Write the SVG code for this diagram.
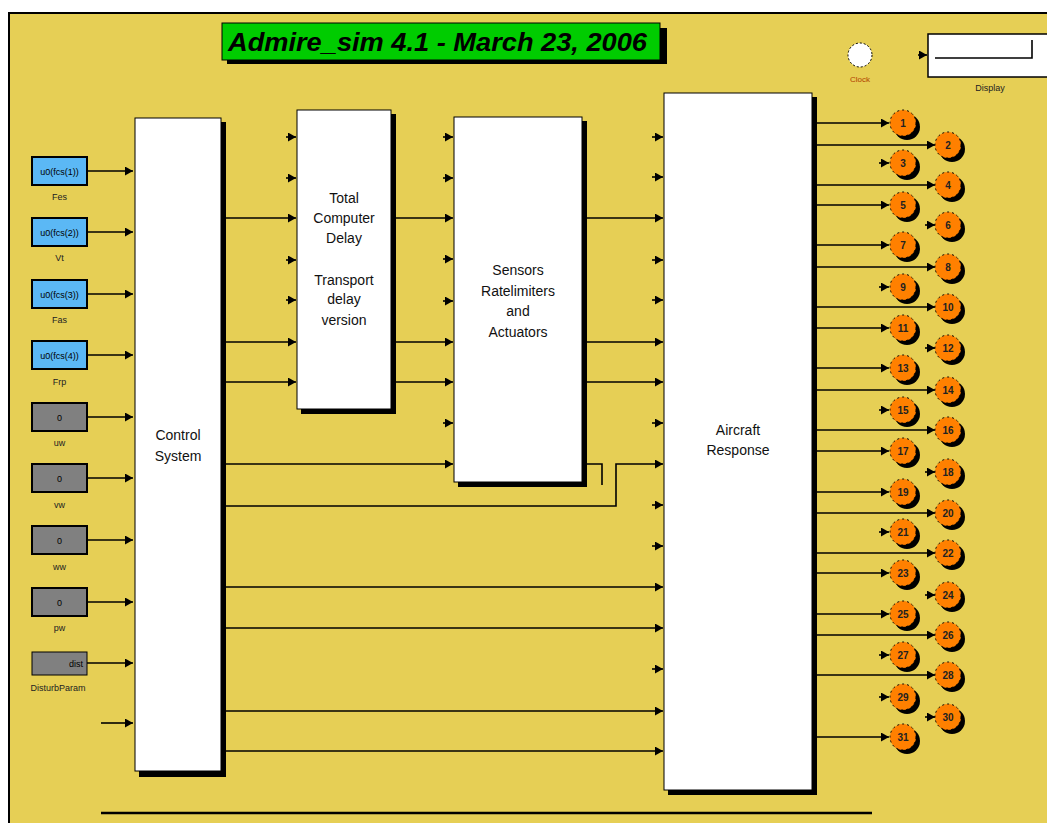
<svg xmlns="http://www.w3.org/2000/svg" width="1047" height="823" viewBox="0 0 1047 823">
<style>
.bg{fill:#E6CF55;stroke:#000;stroke-width:2}
.blk{fill:#fff;stroke:#000;stroke-width:1}
.sh{fill:#000}
.ln{fill:none;stroke:#000;stroke-width:1.6}
.bt{font-family:"Liberation Sans",Arial,sans-serif;font-size:14px;fill:#111;text-anchor:middle}
.lb{font-family:"Liberation Sans",Arial,sans-serif;font-size:9px;fill:#222;text-anchor:middle}
.cb{fill:#5BB8F5;stroke:#000;stroke-width:2}
.gb{fill:#808080;stroke:#000;stroke-width:2}
.ct{font-family:"Liberation Sans",Arial,sans-serif;font-size:9px;fill:#000;text-anchor:middle}
.op{fill:#FF8000;stroke:#000;stroke-width:1;stroke-dasharray:2 3}
.on{font-family:"Liberation Sans",Arial,sans-serif;font-size:10px;font-weight:bold;fill:#222;text-anchor:middle}
</style>
<defs>
<marker id="ah" markerWidth="9" markerHeight="9" refX="8" refY="4.5" orient="auto" markerUnits="userSpaceOnUse"><path d="M0,0 L8,4.5 L0,9 z" fill="#000"/></marker>
</defs>
<rect x="0" y="0" width="1047" height="823" fill="#fff"/>
<rect class="bg" x="9" y="13" width="1100" height="900"/>

<g id="title">
<rect class="sh" x="227" y="28" width="440" height="36"/>
<rect x="222" y="23" width="438" height="37" fill="#00CC00" stroke="#000" stroke-width="1"/>
<text x="228" y="51" font-family="Liberation Sans,Arial,sans-serif" font-size="25" font-weight="bold" font-style="italic" fill="#000" textLength="419" lengthAdjust="spacingAndGlyphs">Admire_sim 4.1 - March 23, 2006</text>
</g>

<g id="clock">
<circle cx="860" cy="55" r="12" fill="#fff" stroke="#000" stroke-width="1" stroke-dasharray="2 2"/>
<text x="860" y="82" font-family="Liberation Sans,Arial,sans-serif" font-size="8" fill="#B04000" text-anchor="middle">Clock</text>
</g>

<g id="display">
<rect x="928" y="34" width="130" height="43" fill="#fff" stroke="#000" stroke-width="1.5"/>
<polyline class="ln" points="935,58 1032,58 1032,40"/>
<text x="990" y="91" font-family="Liberation Sans,Arial,sans-serif" font-size="9" fill="#222" text-anchor="middle">Display</text>
</g>

<g id="in1"><rect class="cb" x="32" y="157" width="55" height="28"/><text class="ct" x="59.5" y="175">u0(fcs(1))</text><text class="lb" x="59.5" y="200">Fes</text></g>
<g id="in2"><rect class="cb" x="32" y="218" width="55" height="28"/><text class="ct" x="59.5" y="236">u0(fcs(2))</text><text class="lb" x="59.5" y="261">Vt</text></g>
<g id="in3"><rect class="cb" x="32" y="280" width="55" height="28"/><text class="ct" x="59.5" y="298">u0(fcs(3))</text><text class="lb" x="59.5" y="323">Fas</text></g>
<g id="in4"><rect class="cb" x="32" y="341" width="55" height="28"/><text class="ct" x="59.5" y="359">u0(fcs(4))</text><text class="lb" x="59.5" y="385">Frp</text></g>
<g id="in5"><rect class="gb" x="32" y="403" width="55" height="28"/><text class="ct" x="59.5" y="421">0</text><text class="lb" x="59.5" y="446">uw</text></g>
<g id="in6"><rect class="gb" x="32" y="464" width="55" height="28"/><text class="ct" x="59.5" y="482">0</text><text class="lb" x="59.5" y="508">vw</text></g>
<g id="in7"><rect class="gb" x="32" y="526" width="55" height="28"/><text class="ct" x="59.5" y="544">0</text><text class="lb" x="59.5" y="570">ww</text></g>
<g id="in8"><rect class="gb" x="32" y="588" width="55" height="28"/><text class="ct" x="59.5" y="606">0</text><text class="lb" x="59.5" y="631">pw</text></g>
<g id="in9"><rect x="32" y="652" width="55" height="23" fill="#808080" stroke="#000" stroke-width="1"/><text class="ct" x="83" y="667" style="text-anchor:end">dist</text><text class="lb" x="58" y="691">DisturbParam</text></g>

<g id="control">
<rect class="sh" x="139" y="122" width="87" height="655"/>
<rect class="blk" x="135" y="118" width="86" height="653"/>
<text class="bt" x="178" y="440">Control</text>
<text class="bt" x="178" y="461">System</text>
</g>

<g id="delay">
<rect class="sh" x="301" y="114" width="95" height="300"/>
<rect class="blk" x="297" y="110" width="94" height="299"/>
<text class="bt" x="344" y="203">Total</text>
<text class="bt" x="344" y="223">Computer</text>
<text class="bt" x="344" y="243">Delay</text>
<text class="bt" x="344" y="285">Transport</text>
<text class="bt" x="344" y="304">delay</text>
<text class="bt" x="344" y="325">version</text>
</g>

<g id="sensors">
<rect class="sh" x="458" y="121" width="129" height="366"/>
<rect class="blk" x="454" y="117" width="128" height="365"/>
<text class="bt" x="518" y="275">Sensors</text>
<text class="bt" x="518" y="296">Ratelimiters</text>
<text class="bt" x="518" y="316">and</text>
<text class="bt" x="518" y="337">Actuators</text>
</g>

<g id="aircraft">
<rect class="sh" x="668" y="97" width="149" height="698"/>
<rect class="blk" x="664" y="93" width="148" height="697"/>
<text class="bt" x="738" y="435">Aircraft</text>
<text class="bt" x="738" y="455">Response</text>
</g>

<g id="connectors">
<line class="ln" x1="87" y1="171" x2="133" y2="171" marker-end="url(#ah)"/>
<line class="ln" x1="87" y1="232" x2="133" y2="232" marker-end="url(#ah)"/>
<line class="ln" x1="87" y1="294" x2="133" y2="294" marker-end="url(#ah)"/>
<line class="ln" x1="87" y1="355" x2="133" y2="355" marker-end="url(#ah)"/>
<line class="ln" x1="87" y1="417" x2="133" y2="417" marker-end="url(#ah)"/>
<line class="ln" x1="87" y1="478" x2="133" y2="478" marker-end="url(#ah)"/>
<line class="ln" x1="87" y1="540" x2="133" y2="540" marker-end="url(#ah)"/>
<line class="ln" x1="87" y1="602" x2="133" y2="602" marker-end="url(#ah)"/>
<line class="ln" x1="87" y1="663" x2="133" y2="663" marker-end="url(#ah)"/>
<line class="ln" x1="101" y1="723" x2="133" y2="723" marker-end="url(#ah)"/>

<line class="ln" x1="222" y1="218" x2="296" y2="218" marker-end="url(#ah)"/>
<line class="ln" x1="222" y1="342" x2="296" y2="342" marker-end="url(#ah)"/>
<line class="ln" x1="222" y1="382" x2="296" y2="382" marker-end="url(#ah)"/>
<line class="ln" x1="222" y1="464" x2="453" y2="464" marker-end="url(#ah)"/>
<path class="ln" d="M222,506 H616 V464 H663" marker-end="url(#ah)"/>
<line class="ln" x1="222" y1="587" x2="663" y2="587" marker-end="url(#ah)"/>
<line class="ln" x1="222" y1="628" x2="663" y2="628" marker-end="url(#ah)"/>
<line class="ln" x1="222" y1="711" x2="663" y2="711" marker-end="url(#ah)"/>
<line class="ln" x1="222" y1="751" x2="663" y2="751" marker-end="url(#ah)"/>

<line class="ln" x1="286" y1="137" x2="296" y2="137" marker-end="url(#ah)"/>
<line class="ln" x1="286" y1="178" x2="296" y2="178" marker-end="url(#ah)"/>
<line class="ln" x1="286" y1="260" x2="296" y2="260" marker-end="url(#ah)"/>
<line class="ln" x1="286" y1="300" x2="296" y2="300" marker-end="url(#ah)"/>

<line class="ln" x1="391" y1="218" x2="453" y2="218" marker-end="url(#ah)"/>
<line class="ln" x1="391" y1="342" x2="453" y2="342" marker-end="url(#ah)"/>
<line class="ln" x1="391" y1="382" x2="453" y2="382" marker-end="url(#ah)"/>

<line class="ln" x1="443" y1="137" x2="453" y2="137" marker-end="url(#ah)"/>
<line class="ln" x1="443" y1="178" x2="453" y2="178" marker-end="url(#ah)"/>
<line class="ln" x1="443" y1="259" x2="453" y2="259" marker-end="url(#ah)"/>
<line class="ln" x1="443" y1="301" x2="453" y2="301" marker-end="url(#ah)"/>
<line class="ln" x1="443" y1="423" x2="453" y2="423" marker-end="url(#ah)"/>

<line class="ln" x1="582" y1="218" x2="663" y2="218" marker-end="url(#ah)"/>
<line class="ln" x1="582" y1="342" x2="663" y2="342" marker-end="url(#ah)"/>
<line class="ln" x1="582" y1="382" x2="663" y2="382" marker-end="url(#ah)"/>
<polyline class="ln" points="582,464 602,464 602,485"/>

<line class="ln" x1="652" y1="137" x2="663" y2="137" marker-end="url(#ah)"/>
<line class="ln" x1="652" y1="177" x2="663" y2="177" marker-end="url(#ah)"/>
<line class="ln" x1="652" y1="260" x2="663" y2="260" marker-end="url(#ah)"/>
<line class="ln" x1="652" y1="300" x2="663" y2="300" marker-end="url(#ah)"/>
<line class="ln" x1="652" y1="423" x2="663" y2="423" marker-end="url(#ah)"/>
<line class="ln" x1="652" y1="505" x2="663" y2="505" marker-end="url(#ah)"/>
<line class="ln" x1="652" y1="546" x2="663" y2="546" marker-end="url(#ah)"/>
<line class="ln" x1="652" y1="669" x2="663" y2="669" marker-end="url(#ah)"/>

<line class="ln" x1="918" y1="55" x2="927" y2="55" marker-end="url(#ah)"/>

<line class="ln" x1="812" y1="123" x2="889" y2="123" marker-end="url(#ah)"/>
<line class="ln" x1="812" y1="145" x2="935" y2="145" marker-end="url(#ah)"/>
<line class="ln" x1="879" y1="163" x2="889" y2="163" marker-end="url(#ah)"/>
<line class="ln" x1="812" y1="185" x2="935" y2="185" marker-end="url(#ah)"/>
<line class="ln" x1="812" y1="205" x2="889" y2="205" marker-end="url(#ah)"/>
<line class="ln" x1="925" y1="225" x2="935" y2="225" marker-end="url(#ah)"/>
<line class="ln" x1="812" y1="245" x2="889" y2="245" marker-end="url(#ah)"/>
<line class="ln" x1="812" y1="267" x2="935" y2="267" marker-end="url(#ah)"/>
<line class="ln" x1="879" y1="287" x2="889" y2="287" marker-end="url(#ah)"/>
<line class="ln" x1="812" y1="307" x2="935" y2="307" marker-end="url(#ah)"/>
<line class="ln" x1="812" y1="328" x2="889" y2="328" marker-end="url(#ah)"/>
<line class="ln" x1="925" y1="348" x2="935" y2="348" marker-end="url(#ah)"/>
<line class="ln" x1="812" y1="368" x2="889" y2="368" marker-end="url(#ah)"/>
<line class="ln" x1="812" y1="390" x2="935" y2="390" marker-end="url(#ah)"/>
<line class="ln" x1="879" y1="410" x2="889" y2="410" marker-end="url(#ah)"/>
<line class="ln" x1="812" y1="430" x2="935" y2="430" marker-end="url(#ah)"/>
<line class="ln" x1="812" y1="451" x2="889" y2="451" marker-end="url(#ah)"/>
<line class="ln" x1="925" y1="472" x2="935" y2="472" marker-end="url(#ah)"/>
<line class="ln" x1="812" y1="492" x2="889" y2="492" marker-end="url(#ah)"/>
<line class="ln" x1="812" y1="513" x2="935" y2="513" marker-end="url(#ah)"/>
<line class="ln" x1="879" y1="532" x2="889" y2="532" marker-end="url(#ah)"/>
<line class="ln" x1="812" y1="553" x2="935" y2="553" marker-end="url(#ah)"/>
<line class="ln" x1="812" y1="573" x2="889" y2="573" marker-end="url(#ah)"/>
<line class="ln" x1="925" y1="595" x2="935" y2="595" marker-end="url(#ah)"/>
<line class="ln" x1="812" y1="614" x2="889" y2="614" marker-end="url(#ah)"/>
<line class="ln" x1="812" y1="635" x2="935" y2="635" marker-end="url(#ah)"/>
<line class="ln" x1="879" y1="655" x2="889" y2="655" marker-end="url(#ah)"/>
<line class="ln" x1="812" y1="675" x2="935" y2="675" marker-end="url(#ah)"/>
<line class="ln" x1="879" y1="697" x2="889" y2="697" marker-end="url(#ah)"/>
<line class="ln" x1="925" y1="717" x2="935" y2="717" marker-end="url(#ah)"/>
<line class="ln" x1="812" y1="737" x2="889" y2="737" marker-end="url(#ah)"/>

<line x1="101" y1="813" x2="872" y2="813" stroke="#000" stroke-width="2.5"/>
</g>

<g id="out1"><circle class="sh" cx="907" cy="127" r="13"/><circle class="op" cx="903" cy="123" r="13"/><text class="on" x="903" y="127">1</text></g>
<g id="out2"><circle class="sh" cx="952" cy="149" r="13"/><circle class="op" cx="948" cy="145" r="13"/><text class="on" x="948" y="149">2</text></g>
<g id="out3"><circle class="sh" cx="907" cy="167" r="13"/><circle class="op" cx="903" cy="163" r="13"/><text class="on" x="903" y="167">3</text></g>
<g id="out4"><circle class="sh" cx="952" cy="189" r="13"/><circle class="op" cx="948" cy="185" r="13"/><text class="on" x="948" y="189">4</text></g>
<g id="out5"><circle class="sh" cx="907" cy="209" r="13"/><circle class="op" cx="903" cy="205" r="13"/><text class="on" x="903" y="209">5</text></g>
<g id="out6"><circle class="sh" cx="952" cy="229" r="13"/><circle class="op" cx="948" cy="225" r="13"/><text class="on" x="948" y="229">6</text></g>
<g id="out7"><circle class="sh" cx="907" cy="249" r="13"/><circle class="op" cx="903" cy="245" r="13"/><text class="on" x="903" y="249">7</text></g>
<g id="out8"><circle class="sh" cx="952" cy="271" r="13"/><circle class="op" cx="948" cy="267" r="13"/><text class="on" x="948" y="271">8</text></g>
<g id="out9"><circle class="sh" cx="907" cy="291" r="13"/><circle class="op" cx="903" cy="287" r="13"/><text class="on" x="903" y="291">9</text></g>
<g id="out10"><circle class="sh" cx="952" cy="311" r="13"/><circle class="op" cx="948" cy="307" r="13"/><text class="on" x="948" y="311">10</text></g>
<g id="out11"><circle class="sh" cx="907" cy="332" r="13"/><circle class="op" cx="903" cy="328" r="13"/><text class="on" x="903" y="332">11</text></g>
<g id="out12"><circle class="sh" cx="952" cy="352" r="13"/><circle class="op" cx="948" cy="348" r="13"/><text class="on" x="948" y="352">12</text></g>
<g id="out13"><circle class="sh" cx="907" cy="372" r="13"/><circle class="op" cx="903" cy="368" r="13"/><text class="on" x="903" y="372">13</text></g>
<g id="out14"><circle class="sh" cx="952" cy="394" r="13"/><circle class="op" cx="948" cy="390" r="13"/><text class="on" x="948" y="394">14</text></g>
<g id="out15"><circle class="sh" cx="907" cy="414" r="13"/><circle class="op" cx="903" cy="410" r="13"/><text class="on" x="903" y="414">15</text></g>
<g id="out16"><circle class="sh" cx="952" cy="434" r="13"/><circle class="op" cx="948" cy="430" r="13"/><text class="on" x="948" y="434">16</text></g>
<g id="out17"><circle class="sh" cx="907" cy="455" r="13"/><circle class="op" cx="903" cy="451" r="13"/><text class="on" x="903" y="455">17</text></g>
<g id="out18"><circle class="sh" cx="952" cy="476" r="13"/><circle class="op" cx="948" cy="472" r="13"/><text class="on" x="948" y="476">18</text></g>
<g id="out19"><circle class="sh" cx="907" cy="496" r="13"/><circle class="op" cx="903" cy="492" r="13"/><text class="on" x="903" y="496">19</text></g>
<g id="out20"><circle class="sh" cx="952" cy="517" r="13"/><circle class="op" cx="948" cy="513" r="13"/><text class="on" x="948" y="517">20</text></g>
<g id="out21"><circle class="sh" cx="907" cy="536" r="13"/><circle class="op" cx="903" cy="532" r="13"/><text class="on" x="903" y="536">21</text></g>
<g id="out22"><circle class="sh" cx="952" cy="557" r="13"/><circle class="op" cx="948" cy="553" r="13"/><text class="on" x="948" y="557">22</text></g>
<g id="out23"><circle class="sh" cx="907" cy="577" r="13"/><circle class="op" cx="903" cy="573" r="13"/><text class="on" x="903" y="577">23</text></g>
<g id="out24"><circle class="sh" cx="952" cy="599" r="13"/><circle class="op" cx="948" cy="595" r="13"/><text class="on" x="948" y="599">24</text></g>
<g id="out25"><circle class="sh" cx="907" cy="618" r="13"/><circle class="op" cx="903" cy="614" r="13"/><text class="on" x="903" y="618">25</text></g>
<g id="out26"><circle class="sh" cx="952" cy="639" r="13"/><circle class="op" cx="948" cy="635" r="13"/><text class="on" x="948" y="639">26</text></g>
<g id="out27"><circle class="sh" cx="907" cy="659" r="13"/><circle class="op" cx="903" cy="655" r="13"/><text class="on" x="903" y="659">27</text></g>
<g id="out28"><circle class="sh" cx="952" cy="679" r="13"/><circle class="op" cx="948" cy="675" r="13"/><text class="on" x="948" y="679">28</text></g>
<g id="out29"><circle class="sh" cx="907" cy="701" r="13"/><circle class="op" cx="903" cy="697" r="13"/><text class="on" x="903" y="701">29</text></g>
<g id="out30"><circle class="sh" cx="952" cy="721" r="13"/><circle class="op" cx="948" cy="717" r="13"/><text class="on" x="948" y="721">30</text></g>
<g id="out31"><circle class="sh" cx="907" cy="741" r="13"/><circle class="op" cx="903" cy="737" r="13"/><text class="on" x="903" y="741">31</text></g>
</svg>
